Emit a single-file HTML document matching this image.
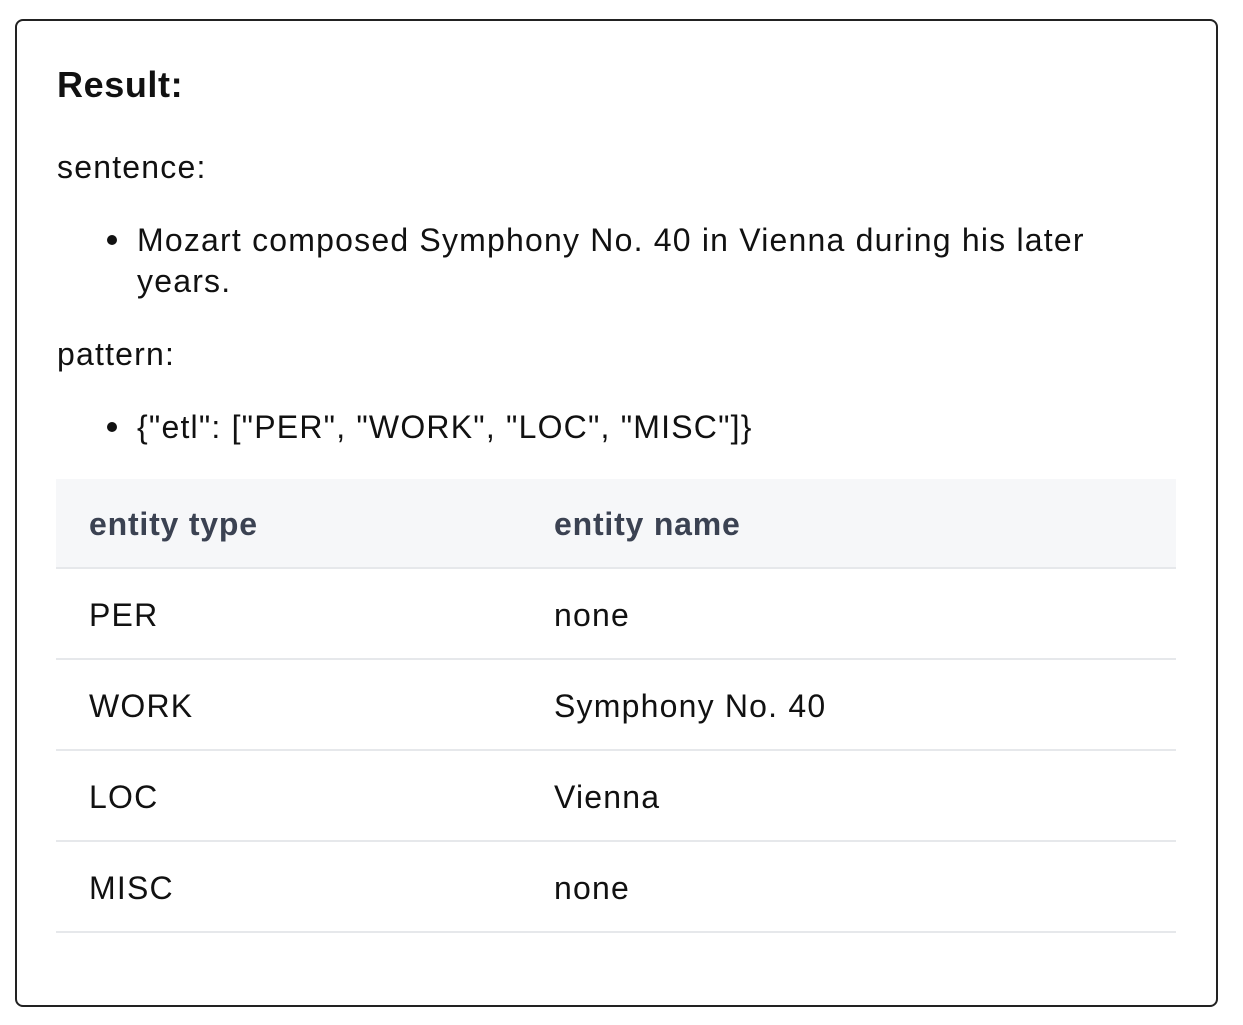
<!DOCTYPE html>
<html><head><meta charset="utf-8"><style>
html,body{margin:0;padding:0;background:#fff;width:1243px;height:1025px;overflow:hidden}
body{font-family:"Liberation Sans","Noto Sans CJK SC",sans-serif;color:#111}
.box{position:absolute;left:15px;top:19px;width:1199px;height:984px;border:2px solid #222;border-radius:8px}
.t{position:absolute;white-space:nowrap}
.h{font-size:36px;font-weight:bold;left:57px;top:64px;letter-spacing:0.6px}
.p{font-size:32px;letter-spacing:1.2px}
.dot{position:absolute;width:10px;height:10px;border-radius:50%;background:#111}
.hdr{position:absolute;left:56px;top:479px;width:1120px;height:89px;background:#f6f7f9}
.line{position:absolute;left:56px;width:1120px;height:2px;background:#e6e8eb}
.th{font-weight:bold;color:#3b4252;letter-spacing:0.8px}
</style></head><body>
<div class="box"></div>
<div class="t h">Result:</div>
<div class="t p" style="left:57px;top:149px">sentence:</div>
<div class="dot" style="left:107px;top:235px"></div>
<div class="t p" style="left:137px;top:222px">Mozart composed Symphony No. 40 in Vienna during his later</div>
<div class="t p" style="left:137px;top:263px">years.</div>
<div class="t p" style="left:57px;top:336px">pattern:</div>
<div class="dot" style="left:107px;top:422px"></div>
<div class="t p" style="left:137px;top:409px">{"etl": ["PER", "WORK", "LOC", "MISC"]}</div>
<div class="hdr"></div>
<div class="t p th" style="left:89px;top:506px">entity type</div>
<div class="t p th" style="left:554px;top:506px">entity name</div>
<div class="line" style="top:567px"></div>
<div class="t p" style="left:89px;top:597px">PER</div><div class="t p" style="left:554px;top:597px">none</div>
<div class="line" style="top:658px"></div>
<div class="t p" style="left:89px;top:688px">WORK</div><div class="t p" style="left:554px;top:688px">Symphony No. 40</div>
<div class="line" style="top:749px"></div>
<div class="t p" style="left:89px;top:779px">LOC</div><div class="t p" style="left:554px;top:779px">Vienna</div>
<div class="line" style="top:840px"></div>
<div class="t p" style="left:89px;top:870px">MISC</div><div class="t p" style="left:554px;top:870px">none</div>
<div class="line" style="top:931px"></div>
</body></html>
